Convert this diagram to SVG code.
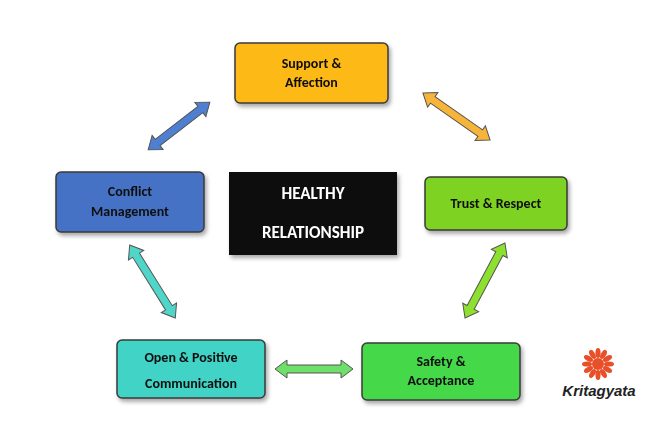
<svg xmlns="http://www.w3.org/2000/svg" width="665" height="429" viewBox="0 0 665 429">
<defs>
<style>
.box{stroke:#3a3a3a;stroke-width:1.5}
.t{font-family:Calibri,"Liberation Sans",sans-serif;font-weight:bold;font-size:14px;fill:#111;text-anchor:middle}
.w{font-family:Calibri,"Liberation Sans",sans-serif;font-weight:bold;font-size:17px;fill:#fff;text-anchor:middle}
.a{stroke:#555;stroke-width:1}
</style>
<filter id="sh" x="-10%" y="-10%" width="130%" height="140%"><feDropShadow dx="2" dy="3" stdDeviation="2" flood-color="#000" flood-opacity="0.35"/></filter>
</defs>
<rect width="665" height="429" fill="#fff"/>
<g id="connectors">
<path class="a" fill="#4f7fd0" transform="translate(179,126) rotate(-37.7)" d="M-39 0L-27-9L-27-4L27-4L27-9L39 0L27 9L27 4L-27 4L-27 9Z"/>
<path class="a" fill="#f6b53a" transform="translate(456.5,116.5) rotate(35)" d="M-41 0L-29-9L-29-4L29-4L29-9L41 0L29 9L29 4L-29 4L-29 9Z"/>
<path class="a" fill="#8ee02f" transform="translate(485,280.5) rotate(118)" d="M-42.5 0L-30.5-9L-30.5-4L30.5-4L30.5-9L42.5 0L30.5 9L30.5 4L-30.5 4L-30.5 9Z"/>
<path class="a" fill="#6ee06a" transform="translate(314,369)" d="M-39 0L-27-9L-27-4L27-4L27-9L39 0L27 9L27 4L-27 4L-27 9Z"/>
<path class="a" fill="#4fd6c8" transform="translate(152.5,281.5) rotate(58)" d="M-43 0L-31-9L-31-4L31-4L31-9L43 0L31 9L31 4L-31 4L-31 9Z"/>
</g>
<g id="support" filter="url(#sh)"><rect class="box" x="235" y="43" width="153" height="60" rx="5" fill="#fdb913"/><text class="t" x="311.5" y="68">Support &amp;</text><text class="t" x="311.5" y="87">Affection</text></g>
<g id="trust" filter="url(#sh)"><rect class="box" x="425" y="177" width="142" height="53" rx="5" fill="#7ed321"/><text class="t" x="496" y="208">Trust &amp; Respect</text></g>
<g id="safety" filter="url(#sh)"><rect class="box" x="362" y="343" width="158" height="57" rx="5" fill="#44d84a"/><text class="t" x="441" y="366">Safety &amp;</text><text class="t" x="441" y="385">Acceptance</text></g>
<g id="open" filter="url(#sh)"><rect class="box" x="117" y="340" width="148" height="58" rx="5" fill="#3fd3c6"/><text class="t" x="191" y="362">Open &amp; Positive</text><text class="t" x="191" y="388">Communication</text></g>
<g id="conflict" filter="url(#sh)"><rect class="box" x="56" y="172" width="148" height="60" rx="5" fill="#4472c4"/><text class="t" x="130" y="196">Conflict</text><text class="t" x="130" y="216">Management</text></g>
<g id="center" filter="url(#sh)"><rect x="229" y="172" width="168" height="83" fill="#111"/><text class="w" x="313" y="199">HEALTHY</text><text class="w" x="313" y="238">RELATIONSHIP</text></g>
<g id="logo">
<g transform="translate(598,364)" fill="#e8502a">
<circle r="6"/>
<g id="p"><ellipse cx="0" cy="-11" rx="2.6" ry="5"/></g>
<use href="#p" transform="rotate(30)"/><use href="#p" transform="rotate(60)"/><use href="#p" transform="rotate(90)"/><use href="#p" transform="rotate(120)"/><use href="#p" transform="rotate(150)"/><use href="#p" transform="rotate(180)"/><use href="#p" transform="rotate(210)"/><use href="#p" transform="rotate(240)"/><use href="#p" transform="rotate(270)"/><use href="#p" transform="rotate(300)"/><use href="#p" transform="rotate(330)"/>
</g>
<text x="599" y="396" font-family="Liberation Sans,sans-serif" font-weight="bold" font-style="italic" font-size="15" fill="#222" text-anchor="middle">Kritagyata</text>
</g>
</svg>
